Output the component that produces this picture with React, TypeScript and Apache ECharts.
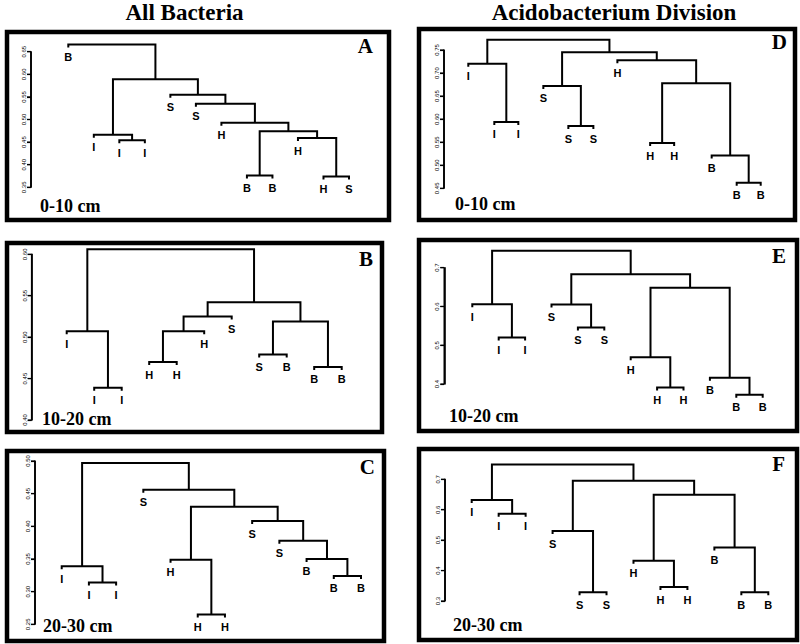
import React, { useEffect, useRef } from "react";
import * as echarts from "echarts";

const columnTitles = ["All Bacteria", "Acidobacterium Division"];
const panelLetters = ["A", "B", "C", "D", "E", "F"];
const depthLabels = ["0-10 cm", "10-20 cm", "20-30 cm", "0-10 cm", "10-20 cm", "20-30 cm"];

// Panel A (All Bacteria, 0-10 cm)
const leavesA = ["B", "I", "I", "I", "S", "S", "H", "B", "B", "H", "H", "S"];
const posA = [0, 1, 2, 3, 4, 5, 6, 7, 8, 9, 10, 11];
const mergesA: [number, number, number][] = [
  [2, 3, 0.454], [1, 12, 0.466], [7, 8, 0.376], [10, 11, 0.374], [9, 15, 0.459],
  [14, 16, 0.474], [6, 17, 0.493], [5, 18, 0.535], [4, 19, 0.555], [13, 20, 0.589], [0, 21, 0.666],
];
const ticksA = { min: 0.35, max: 0.65, step: 0.05, dec: 2 };

// Panel B (All Bacteria, 10-20 cm)
const leavesB = ["I", "I", "I", "H", "H", "H", "S", "S", "B", "B", "B"];
const posB = [0, 1, 2, 3, 4, 5, 6, 7, 8, 9, 10];
const mergesB: [number, number, number][] = [
  [1, 2, 0.439], [0, 11, 0.507], [3, 4, 0.47], [13, 5, 0.507], [14, 6, 0.525],
  [7, 8, 0.479], [9, 10, 0.464], [16, 17, 0.519], [15, 18, 0.542], [12, 19, 0.606],
];
const ticksB = { min: 0.4, max: 0.6, step: 0.05, dec: 2 };

// Panel C (All Bacteria, 20-30 cm)
const leavesC = ["I", "I", "I", "S", "H", "H", "H", "S", "S", "B", "B", "B"];
const posC = [0, 1, 2, 3, 4, 5, 6, 7, 8, 9, 10, 11];
const mergesC: [number, number, number][] = [
  [1, 2, 0.314], [0, 12, 0.339], [5, 6, 0.265], [4, 14, 0.349], [10, 11, 0.324],
  [9, 16, 0.35], [8, 17, 0.378], [7, 18, 0.408], [15, 19, 0.43], [3, 20, 0.456], [13, 21, 0.497],
];
const ticksC = { min: 0.25, max: 0.5, step: 0.05, dec: 2 };

// Panel D (Acidobacterium, 0-10 cm)
const leavesD = ["I", "I", "I", "S", "S", "S", "H", "H", "H", "B", "B", "B"];
const posD = [0, 1.04, 2.0, 3.0, 4.0, 5.0, 5.96, 7.27, 8.23, 9.73, 10.73, 11.69];
const mergesD: [number, number, number][] = [
  [1, 2, 0.594], [0, 12, 0.72], [4, 5, 0.585], [3, 14, 0.672], [7, 8, 0.548],
  [10, 11, 0.462], [9, 17, 0.521], [16, 18, 0.678], [6, 19, 0.728], [15, 20, 0.745], [13, 21, 0.772],
];
const ticksD = { min: 0.45, max: 0.75, step: 0.05, dec: 2 };

// Panel E (Acidobacterium, 10-20 cm)
const leavesE = ["I", "I", "I", "S", "S", "S", "H", "H", "H", "B", "B", "B"];
const posE = [0, 1, 2, 3, 4, 5, 6, 7, 8, 9, 10, 11];
const mergesE: [number, number, number][] = [
  [1, 2, 0.52], [0, 12, 0.606], [4, 5, 0.546], [3, 14, 0.605], [7, 8, 0.391],
  [6, 16, 0.469], [10, 11, 0.372], [9, 18, 0.416], [17, 19, 0.648], [15, 20, 0.683], [13, 21, 0.744],
];
const ticksE = { min: 0.4, max: 0.7, step: 0.1, dec: 1 };

// Panel F (Acidobacterium, 20-30 cm)
const leavesF = ["I", "I", "I", "S", "S", "S", "H", "H", "H", "B", "B", "B"];
const posF = [0, 1, 2, 3, 4, 5, 6, 7, 8, 9, 10, 11];
const mergesF: [number, number, number][] = [
  [1, 2, 0.587], [0, 12, 0.632], [4, 5, 0.329], [3, 14, 0.53], [7, 8, 0.346],
  [6, 16, 0.432], [10, 11, 0.329], [9, 18, 0.476], [17, 19, 0.649], [15, 20, 0.695], [13, 21, 0.749],
];
const ticksF = { min: 0.3, max: 0.7, step: 0.1, dec: 1 };

// layout (pixels): grid = [left of first leaf, top (max tick), width spanned by leaves, height]
const panels = [
  { leaves: leavesA, pos: posA, merges: mergesA, ticks: ticksA, box: [5, 30, 391, 222], grid: [68.3, 51.7, 280.7, 135.6], axisX: 31, letter: [373, 45.5], depth: [40, 206] },
  { leaves: leavesB, pos: posB, merges: mergesB, ticks: ticksB, box: [5, 241, 384, 434], grid: [66.7, 254.3, 275, 165.7], axisX: 31.7, letter: [373, 259], depth: [42, 419] },
  { leaves: leavesC, pos: posC, merges: mergesC, ticks: ticksC, box: [5, 449, 386, 643], grid: [61.7, 461, 299.3, 163.3], axisX: 35, letter: [375, 467], depth: [43, 626] },
  { leaves: leavesD, pos: posD, merges: mergesD, ticks: ticksD, box: [417, 27, 797, 222], grid: [468.3, 50, 292.4, 138.3], axisX: 444, letter: [787, 42], depth: [455, 204] },
  { leaves: leavesE, pos: posE, merges: mergesE, ticks: ticksE, box: [417, 238, 799, 433], grid: [472.3, 267.7, 290.4, 116.3], axisX: 444.3, letter: [786, 256], depth: [449, 416] },
  { leaves: leavesF, pos: posF, merges: mergesF, ticks: ticksF, box: [417, 447, 799, 642], grid: [471.7, 479.3, 296.6, 121.7], axisX: 445, letter: [785, 464], depth: [453, 625] },
];

const STUB = 3;

function buildTree(pos: number[], merges: [number, number, number][], shift: number) {
  const n = pos.length;
  const nx = pos.map((x) => x + shift);
  const nh: number[] = pos.map(() => 0);
  const links: number[][] = [];
  const leafH: number[] = pos.map(() => 0);
  merges.forEach(([a, b, h]) => {
    links.push([nx[a], a < n ? h : nh[a], nx[b], b < n ? h : nh[b], h, a < n ? 1 : 0, b < n ? 1 : 0]);
    if (a < n) leafH[a] = h;
    if (b < n) leafH[b] = h;
    nx.push((nx[a] + nx[b]) / 2);
    nh.push(h);
  });
  return { links, leaves: pos.map((x, i) => [x + shift, leafH[i], i]) };
}

export default function App() {
  const ref = useRef<HTMLDivElement>(null);
  useEffect(() => {
    if (!ref.current) return;
    const chart = echarts.init(ref.current, undefined, { renderer: "svg" });
    const grids: any[] = [];
    const xAxes: any[] = [];
    const yAxes: any[] = [];
    const series: any[] = [];
    const graphics: any[] = [];

    graphics.push({
      type: "text", x: 184.5, y: 12.5,
      style: { text: columnTitles[0], fill: "#000", font: 'bold 23px "Liberation Serif"', align: "center", verticalAlign: "middle" },
    });
    graphics.push({
      type: "text", x: 614, y: 12.5,
      style: { text: columnTitles[1], fill: "#000", font: 'bold 23px "Liberation Serif"', align: "center", verticalAlign: "middle" },
    });

    panels.forEach((p, i) => {
      const [gl, gt, gw, gh] = p.grid;
      const span = p.pos[p.pos.length - 1];
      const unit = span / gw; // data units per pixel
      const pad = gl - p.axisX;
      const shift = pad * unit;
      // grid starts at the axis line; x = 0 sits on the axis line
      grids.push({ left: p.axisX, top: gt, width: gw + pad, height: gh, containLabel: false, outerBoundsMode: "none" });
      xAxes.push({ gridIndex: i, type: "value", min: 0, max: span + shift, show: false });
      const dec = p.ticks.dec;
      yAxes.push({
        gridIndex: i, type: "value", position: "left", min: p.ticks.min, max: p.ticks.max, interval: p.ticks.step,
        axisLine: { show: true, onZero: false, lineStyle: { color: "#000", width: 1.6, opacity: 1 } },
        axisTick: { show: true, inside: false, length: 4, lineStyle: { color: "#000", width: 1.2, opacity: 1 } },
        axisLabel: {
          show: true, rotate: 90, fontSize: 6, color: "#000", margin: 4, fontFamily: "Liberation Sans",
          hideOverlap: false,
          formatter: (v: number) => v.toFixed(dec),
        },
        splitLine: { show: false },
        z: 10,
      });
      const t = buildTree(p.pos, p.merges, shift);
      series.push({
        type: "custom", xAxisIndex: i, yAxisIndex: i, clip: false, silent: true,
        data: t.links,
        encode: { x: [0, 2], y: [1, 3, 4] },
        renderItem: (_params: any, api: any) => {
          const xL = api.value(0), hL = api.value(1), xR = api.value(2), hR = api.value(3), h = api.value(4);
          const lt = api.coord([xL, h]);
          const rt = api.coord([xR, h]);
          const lb = api.value(5) ? [lt[0], lt[1] + STUB] : api.coord([xL, hL]);
          const rb = api.value(6) ? [rt[0], rt[1] + STUB] : api.coord([xR, hR]);
          return {
            type: "polyline",
            shape: { points: [lb, lt, rt, rb] },
            style: { stroke: "#000", lineWidth: 2, fill: null, lineJoin: "miter" },
          };
        },
      });
      const labels = p.leaves;
      series.push({
        type: "custom", xAxisIndex: i, yAxisIndex: i, clip: false, silent: true,
        data: t.leaves,
        encode: { x: 0, y: 1 },
        renderItem: (_params: any, api: any) => {
          const pt = api.coord([api.value(0), api.value(1)]);
          return {
            type: "text", x: pt[0], y: pt[1] + 12.5,
            style: {
              text: labels[api.value(2)], fill: "#000",
              font: 'bold 11px "Liberation Sans"', align: "center", verticalAlign: "middle",
            },
          };
        },
      });
      const [bx0, by0, bx1, by1] = p.box;
      graphics.push({
        type: "rect", shape: { x: bx0 + 2, y: by0 + 2, width: bx1 - bx0 - 4, height: by1 - by0 - 4 },
        style: { fill: "rgba(0,0,0,0)", stroke: "#000", lineWidth: 4.5 }, z: -1,
      });
      graphics.push({
        type: "text", x: p.letter[0], y: p.letter[1],
        style: { text: panelLetters[i], fill: "#000", font: 'bold 21px "Liberation Serif"', align: "right", verticalAlign: "middle" },
      });
      graphics.push({
        type: "text", x: p.depth[0], y: p.depth[1],
        style: { text: depthLabels[i], fill: "#000", font: 'bold 18px "Liberation Serif"', align: "left", verticalAlign: "middle" },
      });
    });

    chart.setOption({
      animation: false,
      backgroundColor: "#fff",
      grid: grids,
      xAxis: xAxes,
      yAxis: yAxes,
      series,
      graphic: { elements: graphics },
    });

    // Axis line and ticks, placed through each y axis' own scale
    const axisMarks: any[] = [];
    panels.forEach((p, i) => {
      const tk = p.ticks;
      const nT = Math.round((tk.max - tk.min) / tk.step);
      const top = chart.convertToPixel({ yAxisIndex: i }, tk.max) as number;
      const bottom = chart.convertToPixel({ yAxisIndex: i }, tk.min) as number;
      axisMarks.push({
        type: "line", shape: { x1: p.axisX, y1: top, x2: p.axisX, y2: bottom },
        style: { stroke: "#000", lineWidth: 1.6 }, silent: true,
      });
      for (let k = 0; k <= nT; k++) {
        const yy = chart.convertToPixel({ yAxisIndex: i }, tk.min + k * tk.step) as number;
        axisMarks.push({
          type: "line", shape: { x1: p.axisX - 4, y1: yy, x2: p.axisX, y2: yy },
          style: { stroke: "#000", lineWidth: 1.2 }, silent: true,
        });
      }
    });
    chart.setOption({ graphic: { elements: [...graphics, ...axisMarks] } });
    return () => chart.dispose();
  }, []);
  return <div ref={ref} style={{ position: "fixed", left: 0, top: 0, width: 800, height: 644 }} />;
}
